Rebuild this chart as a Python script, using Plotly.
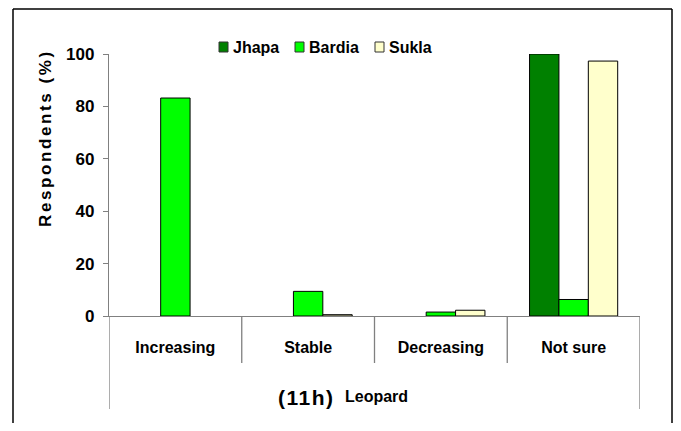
import plotly.graph_objects as go

categories = ["Increasing", "Stable", "Decreasing", "Not sure"]
series_names = ["Jhapa", "Bardia", "Sukla"]
jhapa = [0, 0, 0, 100]
bardia = [83.2, 9.4, 1.5, 6.3]
sukla = [0, 0.5, 2.2, 97.3]
y_ticks = [0, 20, 40, 60, 80, 100]
colors = ["#008000", "#00FF00", "#FFFFCC"]

# page body has an 8px margin; layout in reference-pixel coords
OFF = 8
W, H = 681 - 2 * OFF, 431 - 2 * OFF
PL, PR, PT, PB = 109, 640, 54, 316          # plot area in reference pixels
L, T = PL - OFF, PT - OFF
R, B = W - (PR - OFF), H - (PB - OFF)
PW, PH = PR - PL, PB - PT

def px(x):
    return (x - PL) / PW

def py(y):
    return (PB - y) / PH

FONT = "Liberation Sans, Arial"

fig = go.Figure()
for name, vals, c in zip(series_names, [jhapa, bardia, sukla], colors):
    fig.add_trace(go.Bar(
        x=categories, y=vals, name=name,
        marker=dict(color=c, line=dict(color="black",
                                       width=[1 if v > 0 else 0 for v in vals])),
        showlegend=False,
    ))

shapes = []
# outer border (top, left, right)
bl = dict(color="black", width=1.5)
shapes.append(dict(type="line", xref="paper", yref="paper",
                   x0=px(13), x1=px(672), y0=py(9), y1=py(9), line=bl))
shapes.append(dict(type="line", xref="paper", yref="paper",
                   x0=px(13), x1=px(13), y0=py(9), y1=py(440), line=bl))
shapes.append(dict(type="line", xref="paper", yref="paper",
                   x0=px(672), x1=px(672), y0=py(9), y1=py(440), line=bl))
# category separators
for i, xv in enumerate([-0.5, 0.5, 1.5, 2.5, 3.5]):
    ybot = py(409) if i in (0, 4) else py(363)
    shapes.append(dict(type="line", xref="x", yref="paper", x0=xv, x1=xv,
                       y0=0, y1=ybot, line=dict(color="#808080", width=1.3)))

# legend
leg_x = [219, 295, 375]
annotations = []
for name, c, lx in zip(series_names, colors, leg_x):
    shapes.append(dict(type="rect", xref="paper", yref="paper",
                       x0=px(lx), x1=px(lx + 9), y0=py(52), y1=py(42),
                       line=dict(color="#333333", width=1), fillcolor=c))
    annotations.append(dict(xref="paper", yref="paper", x=px(lx + 12), y=py(47.5),
                            xanchor="left", yanchor="middle", showarrow=False,
                            text="<b>" + name + "</b>",
                            font=dict(family=FONT, size=16, color="black")))

annotations.append(dict(xref="paper", yref="paper", x=px(45), y=py(138),
                        xanchor="center", yanchor="middle", showarrow=False, textangle=-90,
                        text="<span style='letter-spacing:2.6px'><b>Respondents (%)</b></span>",
                        font=dict(family=FONT, size=17, color="black")))
annotations.append(dict(xref="paper", yref="paper", x=px(306), y=py(397),
                        xanchor="center", yanchor="middle", showarrow=False,
                        text="<span style='letter-spacing:1.5px'><b>(11h)</b></span>",
                        font=dict(family=FONT, size=21, color="black")))
annotations.append(dict(xref="paper", yref="paper", x=px(343), y=py(396),
                        xanchor="left", yanchor="middle", showarrow=False,
                        text="<b>Leopard</b>",
                        font=dict(family=FONT, size=16, color="black")))

fig.update_layout(
    width=W, height=H,
    margin=dict(l=L, r=R, t=T, b=B),
    paper_bgcolor="white", plot_bgcolor="white",
    barmode="group", bargap=0.336, bargroupgap=0,
    shapes=shapes, annotations=annotations,
    showlegend=False,
)
fig.update_xaxes(
    type="category", range=[-0.5, 3.5],
    showline=True, linecolor="#808080", linewidth=1.3,
    showgrid=False, zeroline=False, ticks="",
    tickfont=dict(family=FONT, size=16, color="black"),
    tickvals=categories, ticktext=["<b>" + c + "</b>" for c in categories],
    ticklabelstandoff=17,
)
fig.update_yaxes(
    range=[0, 100], tickvals=y_ticks,
    ticktext=["<b>%d</b>" % v for v in y_ticks],
    showline=True, linecolor="#808080", linewidth=1.3,
    showgrid=False, zeroline=False,
    ticks="outside", ticklen=5, tickcolor="#808080", tickwidth=1.3,
    tickfont=dict(family=FONT, size=17, color="black"),
    ticklabelstandoff=5,
)

fig.write_html("out.html")
